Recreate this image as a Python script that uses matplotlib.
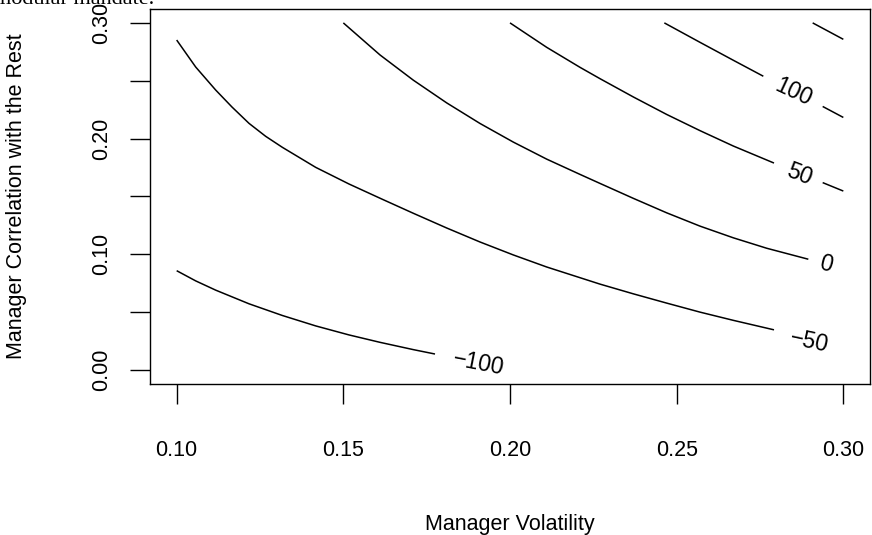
import matplotlib
matplotlib.use('Agg')
from matplotlib import pyplot as plt

# contour levels (only the ones that carry a label get text)
niveis = [-100, -50, 0, 50, 100, 150]

# curvas (Manager Volatility, Manager Correlation)
m100_x = [0.100, 0.1057, 0.1117, 0.1217, 0.1317, 0.1417, 0.1517, 0.1610, 0.1710, 0.1775]
m100_y = [0.0859, 0.0771, 0.0691, 0.0573, 0.0472, 0.0382, 0.0304, 0.0240, 0.0177, 0.0139]

m50_x = [0.100, 0.1057, 0.1117, 0.1166, 0.1217, 0.1267, 0.1317, 0.1417, 0.1517, 0.1617,
         0.1710, 0.1810, 0.1910, 0.2010, 0.2110, 0.2270, 0.2370, 0.2470, 0.2570, 0.2670,
         0.2792]
m50_y = [0.2852, 0.2619, 0.2420, 0.2273, 0.2132, 0.2020, 0.1925, 0.1752, 0.1608, 0.1476,
         0.1355, 0.1228, 0.1107, 0.0995, 0.0891, 0.0743, 0.0659, 0.0579, 0.0501, 0.0430,
         0.0348]

z0_x = [0.150, 0.1610, 0.1710, 0.1810, 0.1910, 0.2010, 0.2110, 0.2210, 0.2270,
        0.2370, 0.2470, 0.2570, 0.2670, 0.2770, 0.2895]
z0_y = [0.300, 0.2723, 0.2505, 0.2309, 0.2131, 0.1970, 0.1823, 0.1691, 0.1613,
        0.1484, 0.1359, 0.1244, 0.1143, 0.1053, 0.0958]

p50_x = [0.200, 0.2110, 0.2210, 0.2270, 0.2370, 0.2470, 0.2570, 0.2670, 0.2792]
p50_y = [0.300, 0.2789, 0.2616, 0.2518, 0.2360, 0.2209, 0.2069, 0.1936, 0.1789]
p50b_x = [0.2938, 0.300]
p50b_y = [0.1620, 0.1547]

p100_x = [0.2463, 0.2570, 0.2670, 0.2760]
p100_y = [0.300, 0.2832, 0.2677, 0.2539]
p100b_x = [0.2938, 0.300]
p100b_y = [0.2278, 0.2183]

p150_x = [0.2908, 0.300]
p150_y = [0.300, 0.2858]

x_ticks = [0.10, 0.15, 0.20, 0.25, 0.30]
x_labels = ['0.10', '0.15', '0.20', '0.25', '0.30']
y_ticks = [0.00, 0.05, 0.10, 0.15, 0.20, 0.25, 0.30]
y_labels = ['0.00', '', '0.10', '', '0.20', '', '0.30']

rotulos = ['\u2212100', '\u221250', '0', '50', '100']
rotulo_x = [0.1904, 0.2897, 0.2947, 0.2867, 0.2849]
rotulo_y = [0.0061, 0.0247, 0.0917, 0.1694, 0.2403]
rotulo_ang = [-11, -12, -14, -21, -25]

plt.rcParams['font.family'] = 'Liberation Sans'

fig = plt.figure(figsize=(8.72, 5.35), dpi=100)
ax = fig.add_axes([150 / 872, 151 / 535, 720 / 872, 375 / 535])

linhas = [(m100_x, m100_y), (m50_x, m50_y), (z0_x, z0_y), (p50_x, p50_y),
          (p50b_x, p50b_y), (p100_x, p100_y), (p100b_x, p100b_y), (p150_x, p150_y)]
for xs, ys in linhas:
    ax.plot(xs, ys, color='black', linewidth=1.1, solid_capstyle='butt',
            solid_joinstyle='round')

for txt, tx, ty, ang in zip(rotulos, rotulo_x, rotulo_y, rotulo_ang):
    ax.text(tx, ty, txt, rotation=ang, rotation_mode='anchor',
            ha='center', va='center', fontsize=16.5)

ax.set_xlim(0.092, 0.308)
ax.set_ylim(-0.012, 0.312)
ax.set_xticks(x_ticks)
ax.set_xticklabels(x_labels)
ax.set_yticks(y_ticks)
ax.set_yticklabels(y_labels, rotation=90, va='center')
ax.tick_params(axis='both', direction='out', length=14.4, width=1.0,
               labelsize=15.5, color='black')
ax.tick_params(axis='x', pad=26)
ax.tick_params(axis='y', pad=13)
for lado in ax.spines.values():
    lado.set_linewidth(1.0)

fig.text(510 / 872, 5 / 535, 'Manager Volatility', ha='center', va='baseline',
         fontsize=15.5)
fig.text(17 / 872, 1 - 196.5 / 535, 'Manager Correlation with the Rest',
         rotation=90, ha='center', va='center', fontsize=15.5)

# pedaço do texto do documento cortado no topo
fig.text(-6 / 872, 531 / 535, 'modular mandate.', ha='left', va='baseline',
         fontsize=16, family='Liberation Serif')

plt.savefig('out.png', dpi=100)
